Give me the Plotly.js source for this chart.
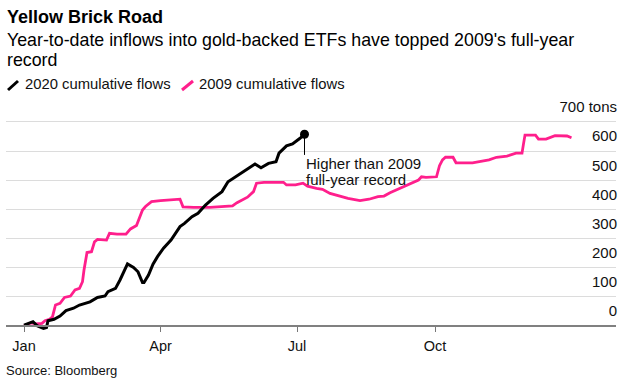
<!DOCTYPE html>
<html>
<head>
<meta charset="utf-8">
<script src="https://cdn.plot.ly/plotly-3.0.1.min.js"></script>
<style>html,body{margin:0;padding:0;background:#fff;}#chart{width:632px;height:380px;}</style>
</head>
<body>
<div id="chart"></div>
<script>
// 2020 cumulative flows (tons), plotted against the day of year
const dates2020 = ["2020-01-01","2020-01-07","2020-01-10","2020-01-14","2020-01-16","2020-01-17","2020-01-21","2020-01-25","2020-01-29","2020-02-03","2020-02-07","2020-02-14","2020-02-19","2020-02-24","2020-02-26","2020-03-02","2020-03-05","2020-03-07","2020-03-10","2020-03-14","2020-03-17","2020-03-20","2020-03-21","2020-03-24","2020-03-27","2020-03-30","2020-04-03","2020-04-08","2020-04-14","2020-04-17","2020-04-22","2020-04-26","2020-05-01","2020-05-06","2020-05-12","2020-05-16","2020-05-22","2020-05-28","2020-06-03","2020-06-07","2020-06-12","2020-06-17","2020-06-19","2020-06-24","2020-06-28","2020-07-03","2020-07-06"];
const flows2020 = [3,15,0,-8,-5,18,23,34,53,61,72,83,98,103,118,129,158,181,213,201,186,149,149,175,212,238,267,295,341,352,375,387,415,438,461,495,515,535,556,543,558,564,593,618,625,644,658];

// 2009 cumulative flows (tons), mapped onto the same calendar days
const dates2009 = ["2020-01-01","2020-01-06","2020-01-09","2020-01-13","2020-01-15","2020-01-18","2020-01-20","2020-01-22","2020-01-25","2020-01-28","2020-02-01","2020-02-04","2020-02-07","2020-02-09","2020-02-10","2020-02-12","2020-02-15","2020-02-17","2020-02-19","2020-02-25","2020-02-27","2020-03-03","2020-03-09","2020-03-12","2020-03-16","2020-03-18","2020-03-20","2020-03-22","2020-03-26","2020-04-01","2020-04-14","2020-04-16","2020-04-23","2020-05-04","2020-05-11","2020-05-19","2020-05-22","2020-05-26","2020-05-29","2020-06-02","2020-06-04","2020-06-09","2020-06-22","2020-06-24","2020-06-30","2020-07-05","2020-07-08","2020-07-14","2020-07-18","2020-07-23","2020-07-29","2020-08-04","2020-08-12","2020-08-18","2020-08-24","2020-08-28","2020-09-01","2020-09-10","2020-09-16","2020-09-20","2020-09-22","2020-09-25","2020-10-02","2020-10-04","2020-10-06","2020-10-08","2020-10-13","2020-10-15","2020-10-26","2020-11-02","2020-11-06","2020-11-11","2020-11-18","2020-11-24","2020-11-28","2020-11-29","2020-11-30","2020-12-07","2020-12-09","2020-12-14","2020-12-20","2020-12-28","2020-12-31"];
const flows2009 = [1,11,7,9,18,23,32,72,78,98,103,124,129,152,192,252,255,289,297,295,318,315,315,333,345,370,398,410,427,430,435,409,407,407,409,412,423,435,442,461,490,493,493,484,484,490,480,472,469,455,446,438,430,435,444,446,457,478,490,501,512,510,512,550,570,579,579,560,560,567,570,579,583,593,593,625,655,655,641,641,653,652,646];

const seriesNames = ["2020 cumulative flows", "2009 cumulative flows"];
const xTickVals = ["2020-01-01","2020-04-01","2020-07-01","2020-10-01"];
const xTickText = ["Jan","Apr","Jul","Oct"];
const yTickVals = [0,100,200,300,400,500,600,700];
const yTickText = ["0","100","200","300","400","500","600","700 tons"];

const BLACK = "#000000";
const PINK = "#ff1f8c";
const FONT = "Liberation Sans, Arial, Helvetica, sans-serif";

const lastIdx = flows2020.length - 1;

const traces = [
  {x: dates2009, y: flows2009, type: "scatter", mode: "lines", name: seriesNames[1],
   line: {color: PINK, width: 2.8}, hoverinfo: "skip"},
  {x: dates2020, y: flows2020, type: "scatter", mode: "lines", name: seriesNames[0],
   line: {color: BLACK, width: 3}, hoverinfo: "skip"},
  {x: [dates2020[lastIdx]], y: [flows2020[lastIdx]], type: "scatter", mode: "markers",
   marker: {color: BLACK, size: 9}, hoverinfo: "skip", showlegend: false}
];

// pixel helpers for paper-positioned text (plot area 6..616 x 95..330)
const px = v => (v - 6) / 610;
const py = v => (330 - v) / 235;

const layout = {
  width: 632, height: 380,
  margin: {l: 6, r: 16, t: 95, b: 50, pad: 0},
  paper_bgcolor: "#ffffff", plot_bgcolor: "#ffffff",
  showlegend: false,
  font: {family: FONT, color: "#111111", size: 14.5},
  xaxis: {
    type: "date",
    range: ["2019-12-20", "2021-01-29 16:00"],
    tickvals: xTickVals, ticktext: xTickText,
    ticks: "outside", ticklen: 5, tickwidth: 1, tickcolor: "#777777",
    ticklabelstandoff: 2,
    showgrid: false, zeroline: false,
    showline: true, linecolor: "#808080", linewidth: 2,
    anchor: "free", position: 13.7 / 806.3,
    tickfont: {family: FONT, size: 14.5, color: "#111111"},
    fixedrange: true
  },
  yaxis: {
    range: [-13.7, 792.6],
    side: "right",
    tickvals: yTickVals, ticktext: yTickText,
    ticklabelposition: "inside",
    ticklabelshift: -15,
    ticklabelstandoff: -4,
    ticks: "",
    showgrid: true, gridcolor: "#dcdcdc", gridwidth: 1,
    zeroline: false, showline: false,
    tickfont: {family: FONT, size: 15, color: "#111111"},
    fixedrange: true
  },
  shapes: [
    {type: "line", xref: "x", yref: "y", x0: dates2020[lastIdx], x1: dates2020[lastIdx],
     y0: flows2020[lastIdx], y1: 587, line: {color: BLACK, width: 1}},
    {type: "line", xref: "paper", yref: "paper", x0: px(8), y0: py(90), x1: px(18), y1: py(81),
     line: {color: BLACK, width: 3}},
    {type: "line", xref: "paper", yref: "paper", x0: px(182), y0: py(90), x1: px(193), y1: py(81),
     line: {color: PINK, width: 3}}
  ],
  annotations: [
    {text: "<b>Yellow Brick Road</b>", xref: "paper", yref: "paper", x: px(5), y: py(17.3),
     xanchor: "left", yanchor: "middle", showarrow: false, font: {family: FONT, size: 18, color: "#000"}},
    {text: "Year-to-date inflows into gold-backed ETFs have topped 2009's full-year", xref: "paper", yref: "paper",
     x: px(5), y: py(39.8), xanchor: "left", yanchor: "middle", showarrow: false,
     font: {family: FONT, size: 17.8, color: "#000"}},
    {text: "record", xref: "paper", yref: "paper",
     x: px(5), y: py(59.8), xanchor: "left", yanchor: "middle", showarrow: false,
     font: {family: FONT, size: 17.8, color: "#000"}},
    {text: seriesNames[0], xref: "paper", yref: "paper", x: px(23), y: py(84),
     xanchor: "left", yanchor: "middle", showarrow: false, font: {family: FONT, size: 14.8, color: "#111"}},
    {text: seriesNames[1], xref: "paper", yref: "paper", x: px(197), y: py(84),
     xanchor: "left", yanchor: "middle", showarrow: false, font: {family: FONT, size: 14.8, color: "#111"}},
    {text: "Higher than 2009", xref: "x", yref: "y", x: dates2020[lastIdx], y: 556.6,
     xanchor: "left", yanchor: "middle", showarrow: false, xshift: -1,
     font: {family: FONT, size: 15, color: "#111"}},
    {text: "full-year record", xref: "x", yref: "y", x: dates2020[lastIdx], y: 502.7,
     xanchor: "left", yanchor: "middle", showarrow: false, xshift: -1,
     font: {family: FONT, size: 15, color: "#111"}},
    {text: "Source: Bloomberg", xref: "paper", yref: "paper", x: px(4), y: py(370),
     xanchor: "left", yanchor: "middle", showarrow: false, font: {family: FONT, size: 13, color: "#111"}}
  ]
};

Plotly.newPlot("chart", traces, layout, {staticPlot: true, displayModeBar: false});
</script>
</body>
</html>
